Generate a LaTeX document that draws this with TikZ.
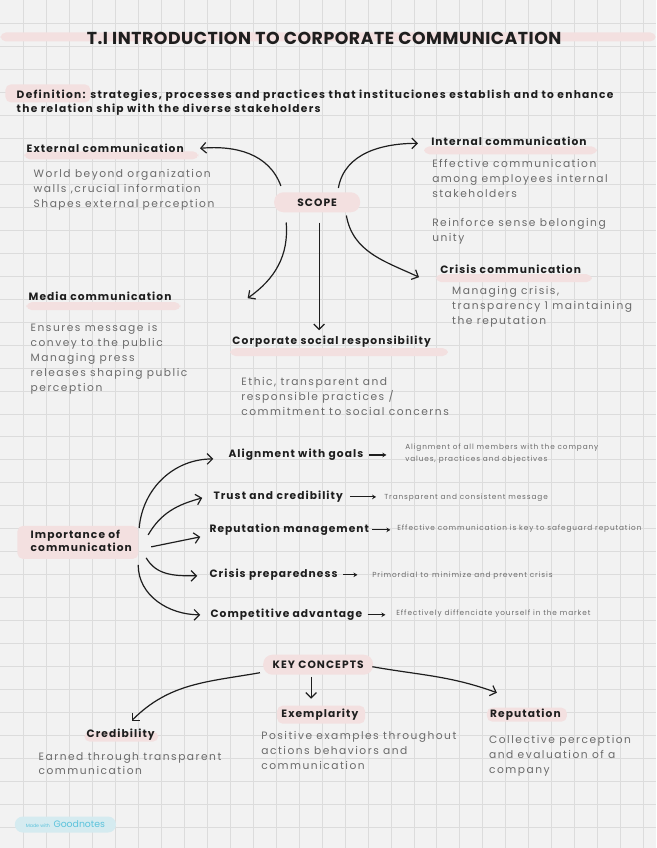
\documentclass[tikz,border=0pt]{standalone}
\usepackage{fontspec}
\setmainfont{Poppins}
\usepackage{tikz}
\usetikzlibrary{positioning,arrows.meta}
\definecolor{paper}{HTML}{F2F2F2}
\definecolor{gridcol}{HTML}{DCDCDC}
\definecolor{hlcol}{HTML}{F3E0E0}
\definecolor{inkcol}{HTML}{1E1E1E}
\definecolor{pencol}{HTML}{6A6A6A}
\definecolor{badgecol}{HTML}{D5EBF0}
\definecolor{goodcol}{HTML}{5CC3DC}
\newcommand{\hlbar}[4]{% #1 x left, #2 y top, #3 x right, #4 y bottom
  \fill[hlcol, rounded corners=4pt] (#1,#2) rectangle (#3,#4);
}

\begin{document}
\begin{tikzpicture}[x=0.75pt, y=-0.75pt,
    every node/.style={inner sep=0pt, text=inkcol},
    head/.style={font=\addfontfeatures{LetterSpace=10}\fontsize{8}{10}\selectfont\bfseries, anchor=west},
    note/.style={font=\addfontfeatures{LetterSpace=14}\fontsize{8}{11.25}\selectfont, text=pencol, align=left, anchor=west},
    fineprint/.style={font=\addfontfeatures{LetterSpace=12}\fontsize{5.5}{9}\selectfont, text=pencol, align=left, anchor=west},
    blob/.style={fill=hlcol, rounded corners=7pt},
    arr/.style={-{Straight Barb[length=4pt,width=8pt]}, line width=0.9pt, draw=inkcol},
    pointer/.style={-{Stealth[length=3pt,width=3.5pt]}, line width=0.8pt, draw=inkcol}]
  % paper and grid
  \fill[paper] (0,0) rectangle (656,848);
  \foreach \i in {1,...,28} \draw[gridcol, line width=0.75pt] (\i*23,0) -- (\i*23,848);
  \foreach \j in {1,...,36} \draw[gridcol, line width=0.75pt] (0,\j*23) -- (656,\j*23);
  % highlighter strokes
  \hlbar{0}{32}{656}{41}
  \hlbar{5}{84}{90}{102}
  \hlbar{24}{151}{198}{159}
  \hlbar{424}{146}{597}{154}
  \hlbar{436}{274}{592}{282}
  \hlbar{26}{302}{180}{310}
  \hlbar{230}{348}{448}{356}
  \hlbar{17}{526}{138}{559}
  \hlbar{84}{732}{158}{742}
  \hlbar{277}{706}{365}{724}
  \hlbar{487}{708}{567}{722}

  % title and definition
  \node[font=\addfontfeatures{LetterSpace=3}\fontsize{13}{15}\selectfont\bfseries] (title) at (324,38) {T.I INTRODUCTION TO CORPORATE COMMUNICATION};
  \node[font=\addfontfeatures{LetterSpace=12}\fontsize{8}{10.5}\selectfont\bfseries, align=left, anchor=north west] (defn) at (16,89)
    {Definition: strategies, processes and practices that instituciones establish and to enhance\\the relation ship with the diverse stakeholders};

  % scope
  \node[blob, font=\addfontfeatures{LetterSpace=10}\fontsize{8}{10}\selectfont\bfseries, minimum width=64.5pt, minimum height=15pt] (scope) at (317,202) {SCOPE};
  \node[head] (ext) at (26,148) {External communication};
  \node[note] (extnote) at (33,190) {World beyond organization\\walls ,crucial information\\Shapes external perception};
  \node[head] (int) at (431,141) {Internal communication};
  \node[note] (intnote) at (432,178) {Effective communication\\among employees internal\\stakeholders};
  \node[note] (intnote2) at (432,231) {Reinforce sense belonging\\unity};
  \node[head] (crisis) at (440,269) {Crisis communication};
  \node[note] (crisisnote) at (452,307) {Managing crisis,\\transparency 1 maintaining\\the reputation};
  \node[head] (media) at (28,296) {Media communication};
  \node[note] (medianote) at (30,359) {Ensures message is\\convey to the public\\Managing press\\releases shaping public\\perception};
  \node[head] (csr) at (232,342) {Corporate social responsibility};
  \node[note] (csrnote) at (241,396) {Ethic, transparent and\\responsible practices /\\commitment to social concerns};

  \draw[arr] ([shift={(7,-6)}]scope.north west) to[out=110, in=5] ([xshift=12]ext.east);
  \draw[arr] ([shift={(-22,-4)}]scope.north east) to[out=80, in=180] ([shift={(-13,2)}]int.west);
  \draw[arr] ([shift={(-31,10)}]scope.south) to[out=-85, in=35] ([shift={(76,2)}]media.east);
  \draw[arr] ([shift={(2,10)}]scope.south) -- ([shift={(2,-6)}]scope.south |- csr.north);
  \draw[arr] ([shift={(-14,3)}]scope.south east) to[out=-80, in=155] ([shift={(-21,8)}]crisis.west);

  % importance of communication
  \node[head, align=left] (imp) at (30,541) {Importance of\\communication};
  \node[head] (goals) at (228,455) {Alignment with goals};
  \node[head] (trust) at (213,497) {Trust and credibility};
  \node[head] (repm) at (209,530) {Reputation management};
  \node[head] (prep) at (209,575) {Crisis preparedness};
  \node[head] (comp) at (210,615) {Competitive advantage};
  \node[fineprint] (goalsnote) at (405,454) {Alignment of all members with the company\\values, practices and objectives};
  \node[fineprint] (trustnote) at (384,498) {Transparent and consistent message};
  \node[fineprint] (repmnote) at (397,529) {Effective communication is key to safeguard reputation};
  \node[fineprint] (prepnote) at (372,576) {Primordial to\enspace minimize and prevent crisis};
  \node[fineprint] (compnote) at (396,614) {Effectively diffenciate yourself in the market};

  \draw[arr] ([shift={(7,-13)}]imp.east) to[out=85, in=180] ([shift={(-15,4)}]goals.west);
  \draw[arr] ([shift={(16,-6)}]imp.east) to[out=60, in=195] ([shift={(-11,1)}]trust.west);
  \draw[arr] ([shift={(19,6)}]imp.east) -- ([shift={(-9,7)}]repm.west);
  \draw[arr] ([shift={(14,17)}]imp.east) to[out=-60, in=180] ([shift={(-12,1)}]prep.west);
  \draw[arr] ([shift={(6,24)}]imp.east) to[out=-90, in=180] ([shift={(-10,0)}]comp.west);
  \draw[pointer] ([xshift=4]goals.east) -- ([xshift=-14]goalsnote.west |- goals.east);
  \draw[pointer] ([xshift=5]trust.east) -- ([xshift=-6]trustnote.west |- trust.east);
  \draw[pointer] ([xshift=2]repm.east) -- ([xshift=-5]repmnote.west |- repm.east);
  \draw[pointer] ([xshift=4]prep.east) -- ([xshift=-11]prepnote.west |- prep.east);
  \draw[pointer] ([xshift=4]comp.east) -- ([xshift=-8]compnote.west |- comp.east);

  % key concepts
  \node[blob, font=\addfontfeatures{LetterSpace=10}\fontsize{8}{10}\selectfont\bfseries, minimum width=82.5pt, minimum height=15pt] (key) at (318,665) {KEY CONCEPTS};
  \node[head] (cred) at (86,735) {Credibility};
  \node[note] (crednote) at (38,764) {Earned through transparent\\communication};
  \node[head] (exem) at (281,715) {Exemplarity};
  \node[note] (exemnote) at (261,751) {Positive examples throughout\\actions behaviors and\\communication};
  \node[head] (rep) at (490,715) {Reputation};
  \node[note] (repnote) at (489,756) {Collective perception\\and evaluation of a\\company};

  \draw[arr] ([shift={(-3,8)}]key.west) to[out=190, in=45] ([shift={(11,-8)}]cred.north);
  \draw[arr] ([shift={(-7,2)}]key.south) -- ([shift={(-7,-10)}]key.south |- exem.north);
  \draw[arr] ([shift={(-1,2)}]key.east) to[out=-10, in=160] ([shift={(7,-16)}]rep.north west);

  % badge
  \node[fill=badgecol, rounded corners=6pt, minimum width=76pt, minimum height=12pt, text=goodcol] (badge) at (65,825)
    {{\fontsize{3.5}{4}\selectfont Made with} {\fontsize{7}{8}\selectfont Goodnotes}};
\end{tikzpicture}
\end{document}
